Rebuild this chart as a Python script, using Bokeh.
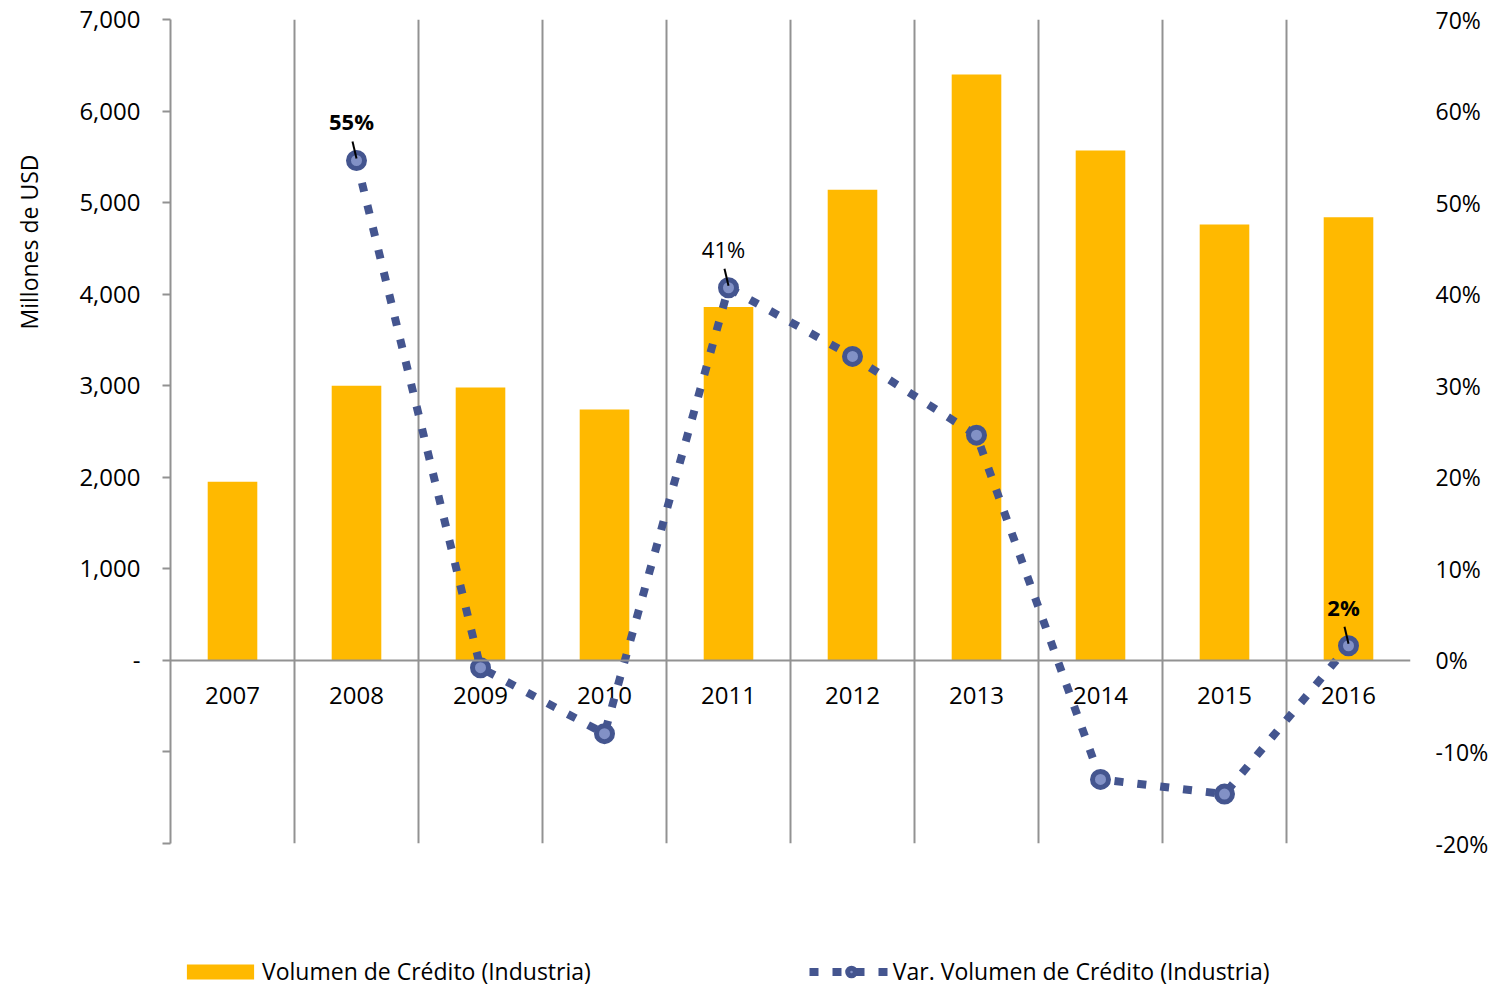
import math
from bokeh.plotting import figure
from bokeh.layouts import column
from bokeh.models import (Range1d, LinearAxis, FixedTicker, NumeralTickFormatter, Span,
                          Title, Legend, LegendItem, ColumnDataSource)
from bokeh.core.properties import value
from bokeh.embed import file_html
from bokeh.resources import INLINE

# ---- data ----
years = [2007, 2008, 2009, 2010, 2011, 2012, 2013, 2014, 2015, 2016]
volumen = [1950, 3000, 2980, 2740, 3860, 5140, 6400, 5570, 4760, 4840]
var_years = [2008, 2009, 2010, 2011, 2012, 2013, 2014, 2015, 2016]
var_pct = [54.6, -0.8, -8.0, 40.7, 33.2, 24.6, -13.0, -14.6, 1.6]
labelled_years = [2008, 2011, 2016]
labelled_bold = [True, False, True]
left_ticks = [-2000, -1000, 0, 1000, 2000, 3000, 4000, 5000, 6000, 7000]
right_ticks = [-20, -10, 0, 10, 20, 30, 40, 50, 60, 70]
series_names = ["Volumen de Crédito (Industria)", "Var. Volumen de Crédito (Industria)"]
y_title = "Millones de USD"

# ---- style ----
FONT = "Open Sans"
BAR = "#FFB900"
LINE = "#44558F"
MFILL = "#8291C6"
GRID = "#929292"

FW, FH = 1240, 824
p = figure(frame_width=FW, frame_height=FH,
           x_range=Range1d(2006.5, 2016.5), y_range=Range1d(-2000, 7000),
           output_backend="svg", toolbar_location=None,
           min_border_left=170, min_border_right=93, min_border_top=19, min_border_bottom=110)
p.outline_line_color = None
p.ygrid.grid_line_color = None
p.extra_y_ranges = {"pct": Range1d(-20, 70)}

# hide bottom axis; use its grid at category boundaries
bounds = [y - 0.5 for y in years] + [years[-1] + 0.5]
xa = p.xaxis[0]
xa.visible = False
g = p.xgrid[0]
g.ticker = FixedTicker(ticks=bounds)
g.grid_line_color = GRID
g.grid_line_width = 2

# left axis
ya = p.yaxis[0]
ya.ticker = FixedTicker(ticks=left_ticks)
ya.formatter = NumeralTickFormatter(format="0,0")
ya.major_label_overrides = {0: "-", -1000: "", -2000: ""}
ya.major_tick_out = 8
ya.major_tick_in = 0
ya.minor_tick_line_color = None
ya.axis_line_color = GRID
ya.axis_line_width = 2
ya.major_tick_line_color = GRID
ya.major_tick_line_width = 2
ya.major_label_text_font = FONT
ya.major_label_text_font_size = "24px"
ya.major_label_text_color = "#000000"
ya.major_label_standoff = 22

# right axis
ra = LinearAxis(y_range_name="pct", ticker=FixedTicker(ticks=right_ticks))
ra.major_label_overrides = {t: f"{t}%" for t in right_ticks}
ra.axis_line_color = None
ra.major_tick_line_color = None
ra.minor_tick_line_color = None
ra.major_label_text_font = FONT
ra.major_label_text_font_size = "23px"
ra.major_label_text_color = "#000000"
ra.major_label_standoff = 19
p.add_layout(ra, "right")

# y title (left side, rotated), with an empty spacer between it and the axis
p.add_layout(Title(text=" ", text_font_size="10px", standoff=11), "left")
p.add_layout(Title(text=y_title, align="right", offset=135, standoff=16, text_font=FONT,
                   text_font_size="23px", text_font_style="normal", text_color="#000000"), "left")

# zero line
p.add_layout(Span(location=0, dimension="width", line_color=GRID, line_width=2))

# bars
bars = p.vbar(x=years, top=volumen, width=0.4, fill_color=BAR, line_color=None)

# year labels along zero line
p.text(x=years, y=[0] * len(years), text=[str(y) for y in years], text_font=value(FONT),
       text_font_size="24px", text_align="center", text_baseline="middle", y_offset=35,
       text_color="#000000")

# line
ln = p.line(var_years, var_pct, y_range_name="pct", line_color=LINE, line_width=8, line_dash="9 14")
sc = p.scatter(var_years, var_pct, y_range_name="pct", size=16, fill_color=MFILL,
               line_color=LINE, line_width=5)

# data labels
ppx = FW / 10.0
ppy = FH / 90.0
lab_vals = [var_pct[var_years.index(y)] for y in labelled_years]
src = ColumnDataSource(dict(
    x=labelled_years, y=lab_vals,
    t=[f"{round(v):d}%" for v in lab_vals],
    st=["bold" if b else "normal" for b in labelled_bold]))
p.text(x="x", y="y", text="t", source=src, y_range_name="pct", text_font=value(FONT),
       text_font_size="22px", text_font_style="st", text_align="center",
       text_baseline="middle", x_offset=-5, y_offset=-39, text_color="#000000")
p.segment(x0=[x - 4 / ppx for x in labelled_years], y0=[v + 19 / ppy for v in lab_vals],
          x1=labelled_years, y1=[v + 2 / ppy for v in lab_vals], y_range_name="pct",
          line_color="#000000", line_width=2)

# legend strip (separate small figure under the chart; its y range lies above all data)
lg = figure(width=1503, height=34, x_range=Range1d(2006.5, 2016.5), y_range=Range1d(7000, 8000),
            x_axis_location=None, y_axis_location=None, output_backend="svg",
            toolbar_location=None, min_border=0)
lg.outline_line_color = None
lg.grid.visible = False
lb = lg.vbar(x=years, top=volumen, width=0.4, fill_color=BAR, line_color=None)
ll = lg.line(x=var_years, y=var_pct, line_color=LINE, line_width=8, line_dash="9 14")
ls = lg.scatter(x=var_years, y=var_pct, size=16, fill_color=MFILL, line_color=LINE, line_width=5)
leg = Legend(items=[LegendItem(label=series_names[0], renderers=[lb]),
                    LegendItem(label=series_names[1], renderers=[ll, ls])],
             orientation="horizontal", location=(8, 0), glyph_width=84, glyph_height=19,
             label_standoff=0, spacing=218, padding=0, margin=0,
             border_line_color=None, background_fill_alpha=0,
             label_text_font=FONT, label_text_font_size="23px", label_text_color="#000000")
lg.add_layout(leg, "center")

layout = column(p, lg, spacing=0)
open("out.html", "w").write(file_html(layout, INLINE))
